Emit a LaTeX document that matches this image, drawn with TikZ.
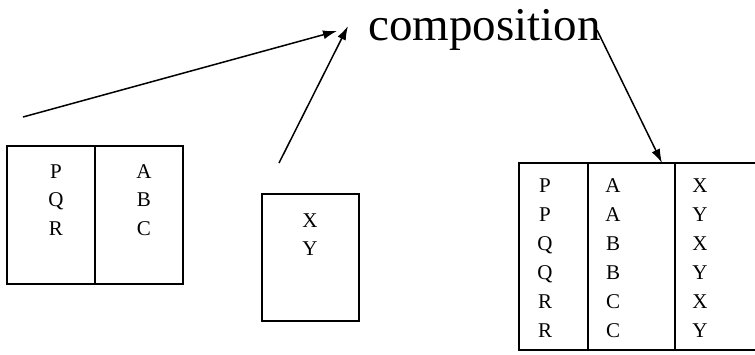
\documentclass[tikz,border=0pt]{standalone}
\usepackage{fontspec}
\setmainfont{Liberation Serif}
\usetikzlibrary{arrows.meta}
\begin{document}
\begin{tikzpicture}[x=1pt,y=-1pt,
  box/.style={draw,line width=2pt,inner sep=0pt},
  letter/.style={font=\fontsize{21}{24}\selectfont,anchor=base,inner sep=0pt},
  arr/.style={line width=1.5pt,-{Latex[length=14pt,width=9pt]}}]
\useasboundingbox (0,0) rectangle (755,354);
\clip (0,0) rectangle (755,354);
% title
\node[font=\fontsize{47}{50}\selectfont,anchor=base west,inner sep=0pt] (comp) at (368,40) {composition};
% left box
\draw[box] (7,146) rectangle (183,284);
\draw[box] (95,146) -- (95,284);
\foreach \t/\i in {P/1,Q/2,R/3} \node[letter] (l\i) at (56,{178+28.5*(\i-1)}) {\t};
\foreach \t/\i in {A/1,B/2,C/3} \node[letter] (m\i) at (144,{178+28.5*(\i-1)}) {\t};
% XY box
\draw[box] (262,194) rectangle (359,321);
\node[letter] (x1) at (310,227) {X};
\node[letter] (x2) at (310,255) {Y};
% right box
\draw[box] (519,163) rectangle (762,350);
\draw[box] (588,163) -- (588,350);
\draw[box] (675,163) -- (675,350);
\foreach \t [count=\i] in {P,P,Q,Q,R,R} \node[letter] (r\i) at (545,{192+29*(\i-1)}) {\t};
\foreach \t [count=\i] in {A,A,B,B,C,C} \node[letter] (s\i) at (613,{192+29*(\i-1)}) {\t};
\foreach \t [count=\i] in {X,Y,X,Y,X,Y} \node[letter] (t\i) at (700,{192+29*(\i-1)}) {\t};
% arrows
\coordinate (a1s) at (23,117);
\coordinate (a1e) at (337,31);
\coordinate (a2s) at (279,163);
\coordinate (a2e) at (348,26);
\coordinate (a3s) at (597,30);
\coordinate (a3e) at (662,163);
\draw[arr] (a1s) -- (a1e);
\draw[arr] (a2s) -- (a2e);
\draw[arr] (a3s) -- (a3e);
\end{tikzpicture}
\end{document}
